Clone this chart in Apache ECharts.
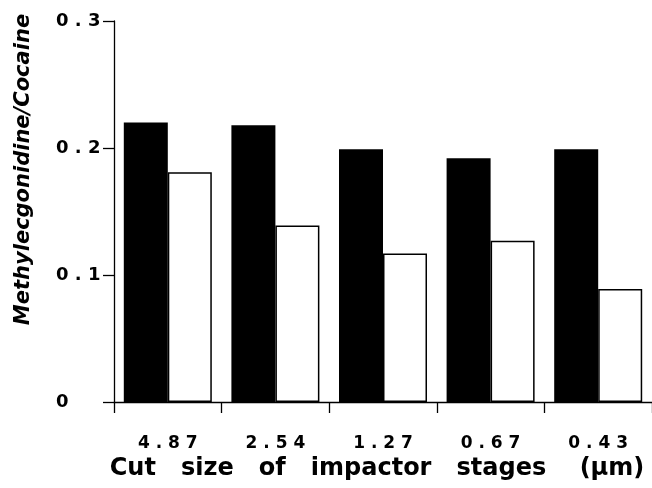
<!DOCTYPE html>
<html>
<head>
<meta charset="utf-8">
<script src="https://cdn.jsdelivr.net/npm/echarts@6/dist/echarts.min.js"></script>
<style>
  html, body { margin: 0; padding: 0; background: #fff; }
  #chart { width: 652px; height: 488px; }
</style>
</head>
<body>
<div id="chart"></div>
<script>
// Impactor stage cut sizes (µm)
const categories = ['4.87', '2.54', '1.27', '0.67', '0.43'];
// Methylecgonidine / cocaine ratio, filled bars
const blackValues = [0.220, 0.218, 0.199, 0.192, 0.199];
// Methylecgonidine / cocaine ratio, open bars
const whiteValues = [0.181, 0.139, 0.117, 0.127, 0.089];
// Value-axis ticks
const yTicks = [0, 0.1, 0.2, 0.3];

const FONT = '"DejaVu Sans", sans-serif';
// spaced-out numerals, e.g. "4 . 8 7"
const spread = s => String(s).split('').join(' ');

const chart = echarts.init(document.getElementById('chart'), null, { renderer: 'canvas' });

chart.setOption({
  animation: false,
  backgroundColor: '#ffffff',
  grid: { left: 114, right: 0, top: 21, bottom: 86 },
  xAxis: {
    type: 'category',
    data: categories,
    boundaryGap: true,
    axisLine: { show: true, lineStyle: { color: '#000', width: 1.3 } },
    axisTick: { show: true, length: 11, lineStyle: { color: '#000', width: 1.3 } },
    axisLabel: {
      margin: 33,
      color: '#000',
      fontFamily: FONT,
      fontWeight: 'bold',
      fontSize: 17,
      formatter: v => spread(v)
    },
    name: 'Cut   size   of   impactor   stages    (\u03bcm)',
    nameLocation: 'middle',
    nameGap: 53,
    nameTextStyle: {
      color: '#000',
      fontFamily: FONT,
      fontWeight: 'bold',
      fontSize: 24,
      padding: [0, 12, 0, 0]
    }
  },
  yAxis: {
    type: 'value',
    min: yTicks[0],
    max: yTicks[yTicks.length - 1],
    interval: yTicks[1] - yTicks[0],
    splitLine: { show: false },
    axisLine: { show: true, lineStyle: { color: '#000', width: 1.3 } },
    axisTick: { show: true, length: 11, lineStyle: { color: '#000', width: 1.3 } },
    axisLabel: {
      margin: 58,
      align: 'left',
      color: '#000',
      fontFamily: FONT,
      fontWeight: 'bold',
      fontSize: 18,
      formatter: v => (v === 0 ? '0' : spread(v.toFixed(1)))
    },
    name: 'Methylecgonidine/Cocaine',
    nameLocation: 'middle',
    nameGap: 80,
    nameRotate: 90,
    nameTextStyle: {
      color: '#000',
      fontFamily: FONT,
      fontWeight: 'bold',
      fontStyle: 'italic',
      fontSize: 21,
      padding: [0, 0, 0, 84]
    }
  },
  series: [
    {
      type: 'bar',
      data: blackValues,
      barWidth: 44,
      barGap: '0%',
      itemStyle: { color: '#000', borderColor: '#000', borderWidth: 0 }
    },
    {
      type: 'bar',
      data: whiteValues,
      barWidth: 44,
      itemStyle: { color: '#fff', borderColor: '#000', borderWidth: 1.5 }
    }
  ]
});
</script>
</body>
</html>
